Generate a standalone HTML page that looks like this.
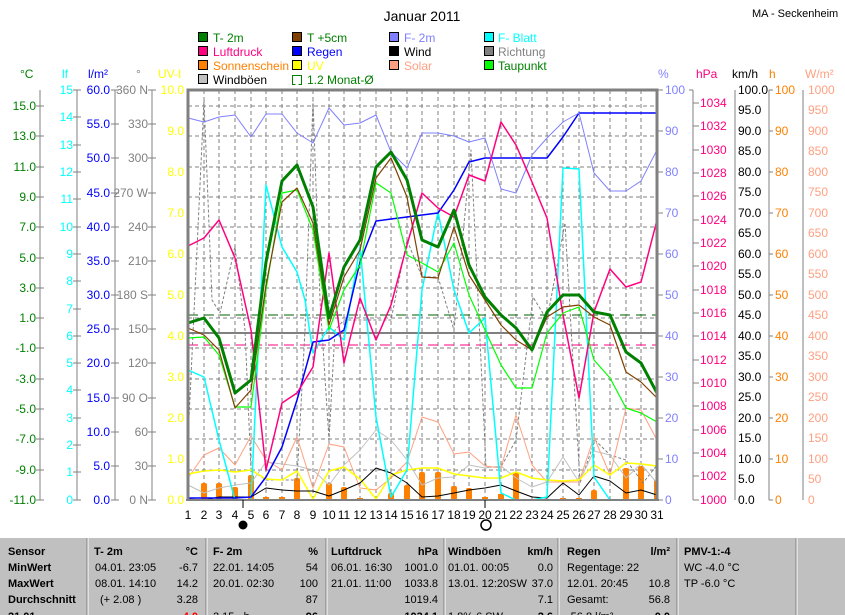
<!DOCTYPE html>
<html><head><meta charset="utf-8"><style>
body{margin:0;background:#fff;}
svg{display:block;font-family:"Liberation Sans",sans-serif;}
</style></head><body>
<svg width="845" height="615" viewBox="0 0 845 615" xmlns="http://www.w3.org/2000/svg">
<rect width="845" height="615" fill="#fff"/>
<text x="422" y="21" font-size="14" text-anchor="middle">Januar 2011</text>
<text x="752" y="17" font-size="11">MA - Seckenheim</text>

<g font-size="12">
<rect x="198.5" y="32.5" width="9" height="9" fill="#008000" stroke="#000"/><text x="213" y="42" fill="#008000">T- 2m</text>
<rect x="198.5" y="46.5" width="9" height="9" fill="#ff0080" stroke="#000"/><text x="213" y="56" fill="#ff0080">Luftdruck</text>
<rect x="198.5" y="60.5" width="9" height="9" fill="#ff8000" stroke="#000"/><text x="213" y="70" fill="#ff8000">Sonnenschein</text>
<rect x="198.5" y="74.5" width="9" height="9" fill="#c0c0c0" stroke="#000"/><text x="213" y="84" fill="#000">Windböen</text>
<rect x="292.5" y="32.5" width="9" height="9" fill="#804000" stroke="#000"/><text x="307" y="42" fill="#008000">T +5cm</text>
<rect x="292.5" y="46.5" width="9" height="9" fill="#0000ff" stroke="#000"/><text x="307" y="56" fill="#0000ff">Regen</text>
<rect x="292.5" y="60.5" width="9" height="9" fill="#ffff00" stroke="#000"/><text x="307" y="70" fill="#ffff00">UV</text>
<path d="M295.5 84.5 h-3 v-9 h9 v9 h-3" fill="none" stroke="#008000"/><text x="307" y="84" fill="#008000">1.2 Monat-Ø</text>
<rect x="389.5" y="32.5" width="9" height="9" fill="#8080ff" stroke="#000"/><text x="404" y="42" fill="#8080ff">F- 2m</text>
<rect x="389.5" y="46.5" width="9" height="9" fill="#000" stroke="#000"/><text x="404" y="56" fill="#000">Wind</text>
<rect x="389.5" y="60.5" width="9" height="9" fill="#ffa080" stroke="#000"/><text x="404" y="70" fill="#ffa080">Solar</text>
<rect x="484.5" y="32.5" width="9" height="9" fill="#00ffff" stroke="#000"/><text x="498" y="42" fill="#00ffff">F- Blatt</text>
<rect x="484.5" y="46.5" width="9" height="9" fill="#808080" stroke="#000"/><text x="498" y="56" fill="#808080">Richtung</text>
<rect x="484.5" y="60.5" width="9" height="9" fill="#00ff00" stroke="#000"/><text x="498" y="70" fill="#008000">Taupunkt</text>
</g>

<g font-size="12">
<text x="20" y="78" fill="#008000">°C</text>
<text x="62" y="78" fill="#00ffff">lf</text>
<text x="88" y="78" fill="#0000ff">l/m²</text>
<text x="136" y="78" fill="#808080">°</text>
<text x="158" y="78" fill="#ffff00">UV-I</text>
<text x="658" y="78" fill="#8080ff">%</text>
<text x="696" y="78" fill="#ff0080">hPa</text>
<text x="732" y="78" fill="#000">km/h</text>
<text x="769" y="78" fill="#ff8000">h</text>
<text x="805" y="78" fill="#ffa080">W/m²</text>
</g>

<g stroke="#808080" stroke-dasharray="4,3" stroke-width="1">
<path d="M204 90V500M219 90V500M235 90V500M251 90V500M266 90V500M282 90V500M297 90V500M313 90V500M329 90V500M344 90V500M360 90V500M376 90V500M391 90V500M407 90V500M422 90V500M438 90V500M454 90V500M469 90V500M485 90V500M501 90V500M516 90V500M532 90V500M547 90V500M563 90V500M579 90V500M594 90V500M610 90V500M626 90V500M641 90V500"/>
<path d="M188 106H657M188 136H657M188 167H657M188 197H657M188 227H657M188 258H657M188 288H657M188 318H657M188 348H657M188 379H657M188 409H657M188 439H657M188 470H657"/>
</g>
<path d="M188 315H657" stroke="#006000" stroke-dasharray="10,6"/>
<path d="M188 333H657" stroke="#808080" stroke-width="2"/>
<path d="M188 345H657" stroke="#ff0080" stroke-dasharray="10,6"/>

<g stroke="#808080" fill="none">
<path d="M40 90V500M36 106h8M36 136h8M36 167h8M36 197h8M36 227h8M36 258h8M36 288h8M36 318h8M36 348h8M36 379h8M36 409h8M36 439h8M36 470h8M36 500h8"/>
<path d="M77 90V500M73 90h8M73 117h8M73 145h8M73 172h8M73 199h8M73 227h8M73 254h8M73 281h8M73 309h8M73 336h8M73 363h8M73 390h8M73 418h8M73 445h8M73 472h8M73 500h8"/>
<path d="M115 90V500M111 90h8M111 124h8M111 158h8M111 193h8M111 227h8M111 261h8M111 295h8M111 329h8M111 363h8M111 398h8M111 432h8M111 466h8M111 500h8"/>
<path d="M152 90V500M148 90h8M148 124h8M148 158h8M148 193h8M148 227h8M148 261h8M148 295h8M148 329h8M148 363h8M148 398h8M148 432h8M148 466h8M148 500h8"/>
</g>
<g font-size="12" text-anchor="end">
<g fill="#008000"><text x="36" y="110">15.0</text><text x="36" y="140">13.0</text><text x="36" y="171">11.0</text><text x="36" y="201">9.0</text><text x="36" y="231">7.0</text><text x="36" y="262">5.0</text><text x="36" y="292">3.0</text><text x="36" y="322">1.0</text><text x="36" y="352">-1.0</text><text x="36" y="383">-3.0</text><text x="36" y="413">-5.0</text><text x="36" y="443">-7.0</text><text x="36" y="474">-9.0</text><text x="36" y="504">-11.0</text></g>
<g fill="#00ffff"><text x="73" y="94">15</text><text x="73" y="121">14</text><text x="73" y="149">13</text><text x="73" y="176">12</text><text x="73" y="203">11</text><text x="73" y="231">10</text><text x="73" y="258">9</text><text x="73" y="285">8</text><text x="73" y="313">7</text><text x="73" y="340">6</text><text x="73" y="367">5</text><text x="73" y="394">4</text><text x="73" y="422">3</text><text x="73" y="449">2</text><text x="73" y="476">1</text><text x="73" y="504">0</text></g>
<g fill="#0000ff"><text x="110" y="94">60.0</text><text x="110" y="128">55.0</text><text x="110" y="162">50.0</text><text x="110" y="197">45.0</text><text x="110" y="231">40.0</text><text x="110" y="265">35.0</text><text x="110" y="299">30.0</text><text x="110" y="333">25.0</text><text x="110" y="367">20.0</text><text x="110" y="402">15.0</text><text x="110" y="436">10.0</text><text x="110" y="470">5.0</text><text x="110" y="504">0.0</text></g>
<g fill="#808080"><text x="148" y="94">360 N</text><text x="148" y="128">330</text><text x="148" y="162">300</text><text x="148" y="197">270 W</text><text x="148" y="231">240</text><text x="148" y="265">210</text><text x="148" y="299">180 S</text><text x="148" y="333">150</text><text x="148" y="367">120</text><text x="148" y="402">90 O</text><text x="148" y="436">60</text><text x="148" y="470">30</text><text x="148" y="504">0 N</text></g>
<g fill="#ffff00"><text x="184" y="94">10.0</text><text x="184" y="135">9.0</text><text x="184" y="176">8.0</text><text x="184" y="217">7.0</text><text x="184" y="258">6.0</text><text x="184" y="299">5.0</text><text x="184" y="340">4.0</text><text x="184" y="381">3.0</text><text x="184" y="422">2.0</text><text x="184" y="463">1.0</text><text x="184" y="504">0.0</text></g>
</g>

<g stroke="#808080" fill="none">
<path d="M657 90h6M657 131h6M657 172h6M657 213h6M657 254h6M657 295h6M657 336h6M657 377h6M657 418h6M657 459h6M657 500h6"/>
<path d="M693 90V500M693 103h6M693 126h6M693 150h6M693 173h6M693 196h6M693 220h6M693 243h6M693 266h6M693 290h6M693 313h6M693 336h6M693 360h6M693 383h6M693 406h6M693 430h6M693 453h6M693 476h6M693 500h6M689 90h4"/>
<path d="M735 90V500"/>
<path d="M769 90V500M769 90h4M769 131h4M769 172h4M769 213h4M769 254h4M769 295h4M769 336h4M769 377h4M769 418h4M769 459h4M769 500h4"/>
<path d="M803 90V500"/>
</g>
<g font-size="12">
<g fill="#8080ff"><text x="665" y="94">100</text><text x="665" y="135">90</text><text x="665" y="176">80</text><text x="665" y="217">70</text><text x="665" y="258">60</text><text x="665" y="299">50</text><text x="665" y="340">40</text><text x="665" y="381">30</text><text x="665" y="422">20</text><text x="665" y="463">10</text><text x="665" y="504">0</text></g>
<g fill="#ff0080"><text x="700" y="107">1034</text><text x="700" y="130">1032</text><text x="700" y="154">1030</text><text x="700" y="177">1028</text><text x="700" y="200">1026</text><text x="700" y="224">1024</text><text x="700" y="247">1022</text><text x="700" y="270">1020</text><text x="700" y="294">1018</text><text x="700" y="317">1016</text><text x="700" y="340">1014</text><text x="700" y="364">1012</text><text x="700" y="387">1010</text><text x="700" y="410">1008</text><text x="700" y="434">1006</text><text x="700" y="457">1004</text><text x="700" y="480">1002</text><text x="700" y="504">1000</text></g>
<g fill="#000"><text x="738" y="94">100.0</text><text x="738" y="114">95.0</text><text x="738" y="135">90.0</text><text x="738" y="155">85.0</text><text x="738" y="176">80.0</text><text x="738" y="196">75.0</text><text x="738" y="217">70.0</text><text x="738" y="237">65.0</text><text x="738" y="258">60.0</text><text x="738" y="278">55.0</text><text x="738" y="299">50.0</text><text x="738" y="319">45.0</text><text x="738" y="340">40.0</text><text x="738" y="360">35.0</text><text x="738" y="381">30.0</text><text x="738" y="401">25.0</text><text x="738" y="422">20.0</text><text x="738" y="442">15.0</text><text x="738" y="463">10.0</text><text x="738" y="483">5.0</text><text x="738" y="504">0.0</text></g>
<g fill="#ff8000"><text x="775" y="94">100</text><text x="775" y="135">90</text><text x="775" y="176">80</text><text x="775" y="217">70</text><text x="775" y="258">60</text><text x="775" y="299">50</text><text x="775" y="340">40</text><text x="775" y="381">30</text><text x="775" y="422">20</text><text x="775" y="463">10</text><text x="775" y="504">0</text></g>
<g fill="#ffa080"><text x="808" y="94">1000</text><text x="808" y="114">950</text><text x="808" y="135">900</text><text x="808" y="155">850</text><text x="808" y="176">800</text><text x="808" y="196">750</text><text x="808" y="217">700</text><text x="808" y="237">650</text><text x="808" y="258">600</text><text x="808" y="278">550</text><text x="808" y="299">500</text><text x="808" y="319">450</text><text x="808" y="340">400</text><text x="808" y="360">350</text><text x="808" y="381">300</text><text x="808" y="401">250</text><text x="808" y="422">200</text><text x="808" y="442">150</text><text x="808" y="463">100</text><text x="808" y="483">50</text><text x="808" y="504">0</text></g>
</g>

<g fill="#ff8000">
<rect x="201" y="483" width="6" height="17" rx="2"/><rect x="216" y="483" width="6" height="17" rx="2"/><rect x="232" y="487" width="6" height="13" rx="2"/><rect x="248" y="475" width="6" height="25" rx="2"/><rect x="263" y="497" width="6" height="3"/><rect x="279" y="497" width="6" height="3"/><rect x="294" y="478" width="6" height="22" rx="2"/><rect x="326" y="483" width="6" height="17" rx="2"/><rect x="341" y="487" width="6" height="13" rx="2"/><rect x="357" y="498" width="6" height="2"/><rect x="388" y="493" width="6" height="7" rx="2"/><rect x="404" y="485" width="6" height="15" rx="2"/><rect x="419" y="472" width="6" height="28" rx="2"/><rect x="435" y="472" width="6" height="28" rx="2"/><rect x="451" y="486" width="6" height="14" rx="2"/><rect x="466" y="488" width="6" height="12" rx="2"/><rect x="482" y="497" width="6" height="3"/><rect x="498" y="494" width="6" height="6"/><rect x="513" y="472" width="6" height="28" rx="2"/><rect x="560" y="498" width="6" height="2"/><rect x="576" y="498" width="6" height="2"/><rect x="591" y="490" width="6" height="10" rx="2"/><rect x="623" y="468" width="6" height="32" rx="2"/><rect x="638" y="466" width="6" height="34" rx="2"/><rect x="654" y="480" width="4" height="20"/>
</g>

<g fill="none" stroke-linejoin="round">
<polyline stroke="#808080" stroke-dasharray="3,2" points="188,440 204,100 212,300 220,313 235,247 245,330 251,470 266,480 282,480 297,480 305,330 313,100 320,300 329,440 335,330 344,320 360,320 376,320 391,320 407,240 422,277 438,277 454,330 471,150 486,467 501,467 516,440 533,297 547,320 565,223 580,483 595,440 610,455 626,460 643,483 657,465"/>
<polyline stroke="#c0c0c0" points="188,485 204,493 219,488 235,485 251,483 266,462 282,464 297,466 313,470 329,485 344,465 360,450 376,430 391,440 407,460 422,485 438,478 454,477 469,465 485,468 501,466 516,478 532,487 547,482 563,457 579,482 594,451 610,455 626,478 641,464 657,483"/>
<polyline stroke="#ffa080" points="188,478 204,455 219,448 235,465 251,436 266,460 282,470 297,437 313,488 329,444 344,447 360,488 376,490 391,478 407,462 422,417 438,422 454,454 469,452 485,466 501,468 516,415 532,465 547,482 563,482 579,482 594,437 610,475 626,408 641,410 657,440"/>
<polyline stroke="#ffff00" stroke-width="1.5" points="188,474 204,471 219,470 235,472 251,470 266,479 282,480 297,471 313,499 329,471 344,467 360,479 376,499 391,475 407,470 422,468 438,468 454,474 469,476 485,478 501,478 516,472 532,478 547,480 563,481 579,480 594,465 610,475 626,463 641,464 657,466"/>
<polyline stroke="#000" points="188,499 204,500 219,497 235,497 251,497 266,488 282,490 297,491 313,491 329,496 344,490 360,483 376,468 391,473 407,483 422,497 438,496 454,493 469,490 485,488 501,485 516,491 532,497 547,498 563,483 579,495 594,476 610,481 626,493 641,490 657,495"/>
<polyline stroke="#00ffff" stroke-width="1.5" points="188,370 204,377 219,440 235,500 251,500 266,185 282,247 297,272 305,300 313,353 329,327 344,340 360,247 376,417 391,497 407,470 422,290 438,212 454,290 469,333 485,318 501,493 516,500 532,500 547,497 563,168 579,169 594,477 610,500"/>
<polyline stroke="#0000ff" stroke-width="1.5" points="188,498 204,498 219,498 235,498 251,497 266,477 282,447 297,400 313,342 329,340 344,330 360,262 376,221 391,219 407,217 422,215 438,213 454,190 469,162 485,158 501,158 516,158 532,158 547,158 563,137 579,113 594,113 610,113 626,113 641,113 657,113"/>
<polyline stroke="#8080ff" points="188,118 204,122 219,117 235,115 251,137 266,114 282,114 297,133 313,143 329,108 344,125 360,123 376,115 391,152 407,168 422,133 438,133 454,136 469,142 485,138 501,189 516,193 532,155 547,138 563,122 579,113 594,173 610,191 626,191 641,181 657,150"/>
<polyline stroke="#ff0080" stroke-width="1.5" points="188,246 204,238 219,220 235,258 251,330 266,470 282,403 297,393 313,367 329,253 344,363 360,298 376,340 391,305 407,245 422,193 438,208 454,217 469,175 485,181 501,122 516,145 532,182 547,218 563,315 579,398 594,312 610,269 626,287 641,282 657,220"/>
<polyline stroke="#00ff00" stroke-width="1.2" points="188,338 204,337 219,355 235,407 251,407 266,290 282,193 297,190 313,230 329,330 344,290 360,265 376,183 391,193 407,255 422,263 438,272 454,243 469,295 485,330 501,365 516,388 532,388 547,333 563,313 579,307 594,360 610,378 626,408 641,413 657,422"/>
<polyline stroke="#804000" stroke-width="1.2" points="188,328 204,335 219,350 235,408 251,390 266,285 282,202 297,188 313,223 329,325 344,277 360,250 376,178 391,158 407,197 422,277 438,278 454,227 469,275 485,300 501,325 516,340 532,350 547,317 563,307 579,305 594,317 610,325 626,372 641,382 657,398"/>
<polyline stroke="#008000" stroke-width="3" points="188,323 204,318 219,338 235,393 251,380 266,262 282,181 297,165 313,207 329,318 344,267 360,240 376,167 391,152 407,180 422,240 438,247 454,210 469,265 485,297 501,315 516,328 532,350 547,312 563,295 579,295 594,312 610,315 626,352 641,363 657,393"/>
</g>

<path d="M188 500V90H657V500" fill="none" stroke="#808080" stroke-width="3"/>
<path d="M186 500H659" stroke="#808080" stroke-width="2"/>

<g font-size="12" text-anchor="middle" fill="#000">
<text x="188" y="519">1</text><text x="204" y="519">2</text><text x="219" y="519">3</text><text x="235" y="519">4</text><text x="251" y="519">5</text><text x="266" y="519">6</text><text x="282" y="519">7</text><text x="297" y="519">8</text><text x="313" y="519">9</text><text x="329" y="519">10</text><text x="344" y="519">11</text><text x="360" y="519">12</text><text x="376" y="519">13</text><text x="391" y="519">14</text><text x="407" y="519">15</text><text x="422" y="519">16</text><text x="438" y="519">17</text><text x="454" y="519">18</text><text x="469" y="519">19</text><text x="485" y="519">20</text><text x="501" y="519">21</text><text x="516" y="519">22</text><text x="532" y="519">23</text><text x="547" y="519">24</text><text x="563" y="519">25</text><text x="579" y="519">26</text><text x="594" y="519">27</text><text x="610" y="519">28</text><text x="626" y="519">29</text><text x="641" y="519">30</text><text x="657" y="519">31</text>
</g>
<path d="M243 500v8M485 500v8" stroke="#000"/>
<circle cx="243" cy="525" r="4.5" fill="#000"/>
<circle cx="486" cy="525" r="5" fill="none" stroke="#000" stroke-width="1.5"/>

<rect x="0" y="537" width="845" height="78" fill="#c0c0c0"/>
<path d="M0 537.5H845" stroke="#fff"/>
<g stroke="#fff"><path d="M88 538V615M207 538V615M327 538V615M445 538V615M559 538V615M678 538V615M797 538V615"/></g>
<g stroke="#808080"><path d="M87 538V615M206 538V615M326 538V615M444 538V615M558 538V615M677 538V615M796 538V615"/></g>
<g font-size="11" fill="#000">
<g font-weight="bold"><text x="8" y="555">Sensor</text><text x="8" y="571">MinWert</text><text x="8" y="587">MaxWert</text><text x="8" y="603">Durchschnitt</text><text x="8" y="620">21.01.</text>
<text x="94" y="555">T- 2m</text><text x="198" y="555" text-anchor="end">°C</text>
<text x="213" y="555">F- 2m</text><text x="318" y="555" text-anchor="end">%</text>
<text x="331" y="555">Luftdruck</text><text x="438" y="555" text-anchor="end">hPa</text>
<text x="448" y="555">Windböen</text><text x="553" y="555" text-anchor="end">km/h</text>
<text x="567" y="555">Regen</text><text x="670" y="555" text-anchor="end">l/m²</text>
<text x="684" y="555">PMV-1:-4</text>
<text x="198" y="620" text-anchor="end" fill="#ff0000">4.0</text><text x="318" y="620" text-anchor="end">96</text><text x="438" y="620" text-anchor="end">1034.1</text><text x="553" y="620" text-anchor="end">2.6</text><text x="670" y="620" text-anchor="end">0.0</text>
</g>
<text x="95" y="571">04.01.  23:05</text><text x="198" y="571" text-anchor="end">-6.7</text>
<text x="95" y="587">08.01.  14:10</text><text x="198" y="587" text-anchor="end">14.2</text>
<text x="100" y="603">(+ 2.08 )</text><text x="198" y="603" text-anchor="end">3.28</text>
<text x="213" y="571">22.01.  14:05</text><text x="318" y="571" text-anchor="end">54</text>
<text x="213" y="587">20.01.  02:30</text><text x="318" y="587" text-anchor="end">100</text>
<text x="318" y="603" text-anchor="end">87</text>
<text x="331" y="571">06.01.  16:30</text><text x="438" y="571" text-anchor="end">1001.0</text>
<text x="331" y="587">21.01.  11:00</text><text x="438" y="587" text-anchor="end">1033.8</text>
<text x="438" y="603" text-anchor="end">1019.4</text>
<text x="448" y="571">01.01.  00:05</text><text x="553" y="571" text-anchor="end">0.0</text>
<text x="448" y="587">13.01.  12:20SW</text><text x="553" y="587" text-anchor="end">37.0</text>
<text x="553" y="603" text-anchor="end">7.1</text>
<text x="567" y="571">Regentage: 22</text>
<text x="567" y="587">12.01.  20:45</text><text x="670" y="587" text-anchor="end">10.8</text>
<text x="567" y="603">Gesamt:</text><text x="670" y="603" text-anchor="end">56.8</text>
<text x="684" y="571">WC -4.0 °C</text>
<text x="684" y="587">TP -6.0 °C</text>
<text x="213" y="620">2.15  ..h</text><text x="448" y="620">1.8% 6 SW</text><text x="567" y="620">-56.8 l/m²</text>
</g>
</svg>
</body></html>
